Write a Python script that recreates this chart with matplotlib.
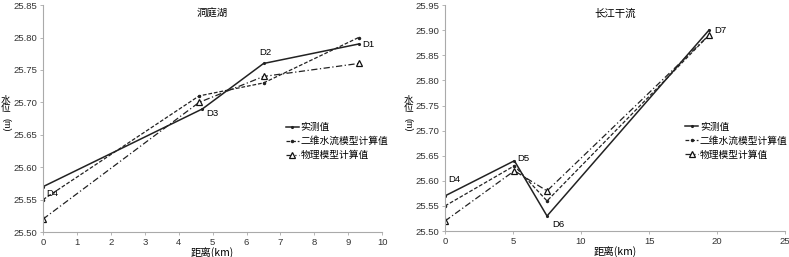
import matplotlib.pyplot as plt

plt.rcParams['font.family'] = ['Liberation Sans', 'Noto Sans CJK SC', 'DejaVu Sans']

# 洞庭湖 panel
dt_dist_obs = [0, 4.7, 6.5, 9.3]
dt_obs = [25.57, 25.69, 25.76, 25.79]
dt_dist_2d = [0, 4.6, 6.5, 9.3]
dt_2d = [25.55, 25.71, 25.73, 25.80]
dt_dist_phy = [0, 4.6, 6.5, 9.3]
dt_phy = [25.52, 25.70, 25.74, 25.76]
dt_labels = ["D4", "D3", "D2", "D1"]

# 长江干流 panel
cj_dist = [0, 5.1, 7.5, 19.4]
cj_obs = [25.57, 25.64, 25.53, 25.90]
cj_2d = [25.55, 25.63, 25.56, 25.89]
cj_phy = [25.52, 25.62, 25.58, 25.89]
cj_labels = ["D4", "D5", "D6", "D7"]

series_names = ["实测值", "二维水流模型计算值", "物理模型计算值"]

fig = plt.figure(figsize=(7.89, 2.57), dpi=100)
ax1 = fig.add_axes([0.0545, 0.097, 0.430, 0.883])
ax2 = fig.add_axes([0.564, 0.101, 0.431, 0.879])

cjk = ['Noto Sans CJK SC', 'DejaVu Sans']
fs = 6.8


def draw(ax, xo, yo, x2, y2, xp, yp, leg_x):
    ax.plot(xo, yo, '-', color='#222222', lw=1.1, marker='.', ms=2.5, label=series_names[0])
    ax.plot(x2, y2, '--', color='#222222', lw=0.9, dashes=(3, 1.5), marker='.', ms=3, label=series_names[1])
    ax.plot(xp, yp, '-.', color='#222222', lw=0.9, dashes=(5, 2, 1, 2), marker='^', ms=4,
            mfc='white', mec='#111111', mew=0.9, label=series_names[2])
    for s in ['top', 'right']:
        ax.spines[s].set_visible(False)
    for s in ['left', 'bottom']:
        ax.spines[s].set_color('#aaaaaa')
        ax.spines[s].set_linewidth(0.8)
    ax.tick_params(labelsize=fs, colors='#333333', length=2.5, width=0.6, pad=1.5)
    ax.tick_params(axis='both', color='#aaaaaa')
    ax.yaxis.set_major_formatter(plt.FormatStrFormatter('%.2f'))
    ax.legend(loc='center left', bbox_to_anchor=(leg_x, 0.40), frameon=False,
              prop={'family': cjk, 'size': 7}, handlelength=1.3, handletextpad=0.2,
              labelspacing=0.4, borderaxespad=0)
    ax.set_xlabel("距离(km)", fontsize=7.5, family=cjk, labelpad=0)


draw(ax1, dt_dist_obs, dt_obs, dt_dist_2d, dt_2d, dt_dist_phy, dt_phy, 0.705)
ax1.set_xlim(0, 10)
ax1.set_ylim(25.50, 25.85)
ax1.set_xticks(range(0, 11))
ax1.set_yticks([25.50 + 0.05 * i for i in range(8)])
ax1.text(0.5, 0.95, "洞庭湖", transform=ax1.transAxes, ha='center', fontsize=7.5, family=cjk)
ax1.annotate(dt_labels[0], (dt_dist_obs[0], dt_obs[0]), xytext=(2, -7), textcoords='offset points', fontsize=fs)
ax1.annotate(dt_labels[1], (dt_dist_obs[1], dt_obs[1]), xytext=(3, -5), textcoords='offset points', fontsize=fs)
ax1.annotate(dt_labels[2], (dt_dist_obs[2], dt_obs[2]), xytext=(-3, 6), textcoords='offset points', fontsize=fs)
ax1.annotate(dt_labels[3], (dt_dist_obs[3], dt_obs[3]), xytext=(3, -2), textcoords='offset points', fontsize=fs)

draw(ax2, cj_dist, cj_obs, cj_dist, cj_2d, cj_dist, cj_phy, 0.695)
ax2.set_xlim(0, 25)
ax2.set_ylim(25.50, 25.95)
ax2.set_xticks(range(0, 26, 5))
ax2.set_yticks([25.50 + 0.05 * i for i in range(10)])
ax2.text(0.5, 0.95, "长江干流", transform=ax2.transAxes, ha='center', fontsize=7.5, family=cjk)
ax2.annotate(cj_labels[0], (cj_dist[0], cj_obs[0]), xytext=(2, 10), textcoords='offset points', fontsize=fs)
ax2.annotate(cj_labels[1], (cj_dist[1], cj_obs[1]), xytext=(2, 0), textcoords='offset points', fontsize=fs)
ax2.annotate(cj_labels[2], (cj_dist[2], cj_obs[2]), xytext=(4, -8), textcoords='offset points', fontsize=fs)
ax2.annotate(cj_labels[3], (cj_dist[3], cj_obs[3]), xytext=(4, -2), textcoords='offset points', fontsize=fs)

# y-axis labels: stacked 水位 then rotated (m)
for x0 in [0.001, 0.511]:
    fig.text(x0, 0.595, "水\n位", fontsize=7, family=cjk, va='center', linespacing=0.85)
    fig.text(x0 + 0.001, 0.515, "(m)", fontsize=6.5, rotation=270, va='center')

fig.savefig("out.png", dpi=100)
